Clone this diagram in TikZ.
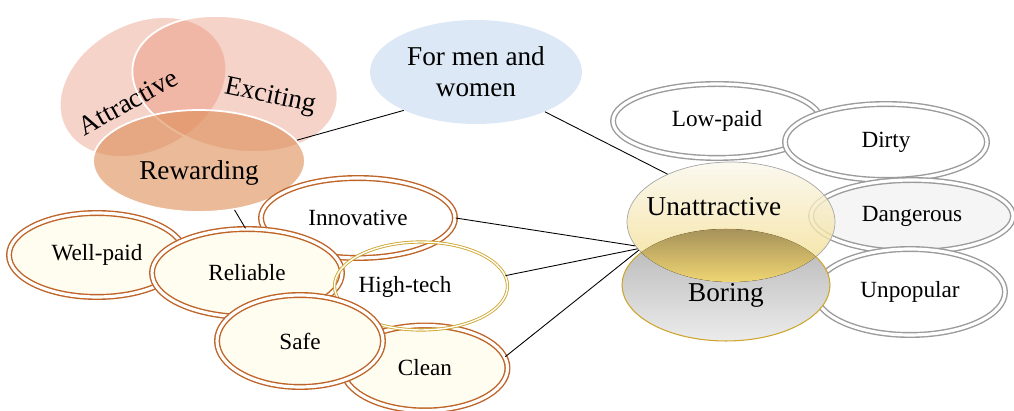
\documentclass[tikz,border=0pt]{standalone}
\usepackage{fontspec}
\setmainfont{Liberation Serif}
\usetikzlibrary{shapes.geometric}

\definecolor{salmon}{RGB}{230,130,100}
\definecolor{rewardtan}{RGB}{220,140,85}
\definecolor{menblue}{RGB}{220,232,245}
\definecolor{copper}{RGB}{190,100,40}
\definecolor{cream}{RGB}{255,252,240}
\definecolor{silver}{RGB}{155,155,155}
\definecolor{gold}{RGB}{205,165,45}
\definecolor{goldlight}{RGB}{250,247,236}
\definecolor{golddark}{RGB}{242,218,130}
\definecolor{olive}{RGB}{165,145,90}
\definecolor{lensyellow}{RGB}{240,214,115}

\newcommand\lblbig{\fontsize{15.5}{17.6}\selectfont}
\newcommand\lblsmall{\fontsize{13.2}{15}\selectfont}

\begin{document}
\begin{tikzpicture}[
	x=0.02cm, y=-0.02cm,
	font=\lblsmall,
	venn/.style={ellipse, draw=white, line width=1pt, inner sep=0pt},
	copperoval/.style={ellipse, inner sep=0pt, fill=cream, draw=copper, line width=0.8pt, double=white, double distance=1.8pt},
	silveroval/.style={ellipse, inner sep=0pt, fill=white, draw=silver, line width=0.8pt, double=white, double distance=1.8pt},
	link/.style={line width=0.5pt, black}
	]
\useasboundingbox (0,0) rectangle (1014,411);

	% venn of the good words
	\node[venn, fill=salmon, fill opacity=0.35, minimum width=3.52cm, minimum height=2.56cm, rotate=28] (attractive) at (143,87) {};
	\node[venn, fill=salmon, fill opacity=0.35, minimum width=4.16cm, minimum height=2.64cm, rotate=-12] (exciting) at (235,84) {};
	\node[venn, fill=rewardtan, fill opacity=0.6, minimum width=4.24cm, minimum height=2.04cm] (rewarding) at (199,161) {};
	\node[font=\lblbig, rotate=29] (attractive_txt) at (128,102) {Attractive};
	\node[font=\lblbig, rotate=-12] (exciting_txt) at (270,97) {Exciting};
	\node[font=\lblbig] (rewarding_txt) at (199,173) {Rewarding};

	\node[ellipse, fill=menblue, minimum width=4.24cm, minimum height=2.08cm, align=center, font=\lblbig] (men) at (476,72) {For men and\\women};

	% bad words
	\node[silveroval, minimum width=4.16cm, minimum height=1.48cm] (lowpaid) at (717,121) {Low-paid};
	\node[silveroval, minimum width=4.04cm, minimum height=1.52cm] (dirty) at (886,142) {Dirty};
	\node[silveroval, fill=gray!8, minimum width=4.04cm, minimum height=1.44cm] (dangerous) at (912,216) {Dangerous};
	\node[silveroval, minimum width=3.8cm, minimum height=1.72cm] (unpopular) at (910,292) {Unpopular};
	\node[ellipse, draw=gold, line width=0.6pt, top color=gray!60, bottom color=gray!15, minimum width=4.16cm, minimum height=2.24cm] (boring) at (726,285) {};
	\node[ellipse, draw=gray!70, line width=0.4pt, top color=goldlight, bottom color=golddark, fill opacity=0.8, minimum width=4.16cm, minimum height=2.4cm] (unattractive) at (731,222) {};
	% where the two overlap
	\begin{scope}
		\clip (boring.center) ellipse [x radius=104, y radius=56];
		\clip (unattractive.center) ellipse [x radius=104, y radius=60];
		\fill[top color=olive, bottom color=lensyellow] (boring.west |- boring.north) rectangle (boring.east |- unattractive.south);
	\end{scope}
	\node[font=\lblbig] (boring_txt) at (726,295) {Boring};
	\node[font=\lblbig] (unattractive_txt) at (714,207) {Unattractive};

	% good words
	\node[copperoval, minimum width=3.52cm, minimum height=1.68cm] (wellpaid) at (97,255) {Well-paid};
	\node[copperoval, fill=white, minimum width=3.88cm, minimum height=1.6cm] (innovative) at (358,218) {Innovative};
	\node[copperoval, minimum width=3.8cm, minimum height=1.76cm] (reliable) at (247,273) {Reliable};
	\node[copperoval, minimum width=3.3cm, minimum height=1.7cm] (clean) at (425,368) {Clean};
	\node[ellipse, draw=gold, line width=0.5pt, double=white, double distance=0.8pt, minimum width=3.46cm, minimum height=1.76cm] (hightech) at (421,286) {};
	\node (hightech_txt) at (405,287) {High-tech};
	\node[copperoval, minimum width=3.32cm, minimum height=1.84cm] (safe) at (300,341) {Safe};

	\draw[link] (rewarding.12) -- (men.208);
	\draw[link] (men.-30) -- (unattractive.143);
	\draw[link] (rewarding.-54) -- (reliable.92);
	\draw[link] (innovative.east) -- (unattractive.194);
	\draw[link] (hightech.7) -- (unattractive.196);
	\draw[link] (clean.8) -- (unattractive.197);

\end{tikzpicture}
\end{document}
